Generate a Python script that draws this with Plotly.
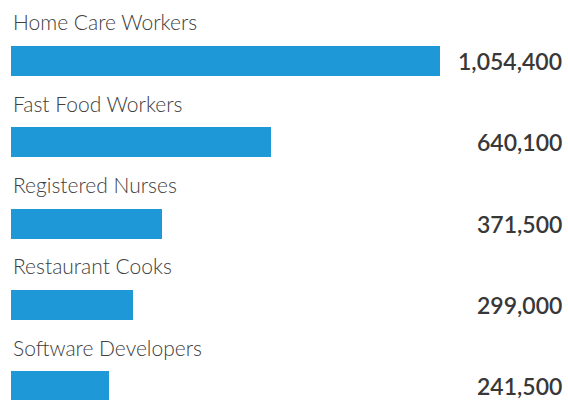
import plotly.graph_objects as go

categories = ["Home Care Workers", "Fast Food Workers", "Registered Nurses",
              "Restaurant Cooks", "Software Developers"]
values = [1054400, 640100, 371500, 299000, 241500]
value_labels = ["1,054,400", "640,100", "371,500", "299,000", "241,500"]

positions = list(range(len(categories)))
BAR_COLOR = "#1E98D6"

fig = go.Figure()
fig.add_trace(go.Bar(
    x=values, y=positions, orientation="h",
    marker=dict(color=BAR_COLOR, line=dict(width=0)),
    width=0.37, hoverinfo="skip", showlegend=False,
))

annotations = []
for p, cat, lab in zip(positions, categories, value_labels):
    annotations.append(dict(
        x=0, y=p - 0.48, xref="x", yref="y", text=cat, showarrow=False,
        xanchor="left", yanchor="middle",
        font=dict(family="Lato", size=21, color="#404040", weight=300),
    ))
    annotations.append(dict(
        x=1, y=p, xref="paper", yref="y", text=lab, showarrow=False,
        xanchor="right", yanchor="middle", xshift=-4,
        font=dict(family="Lato", size=23, color="#383838", weight=600),
    ))

fig.update_layout(
    width=568, height=400,
    margin=dict(l=11, r=0, t=0, b=0),
    paper_bgcolor="white", plot_bgcolor="white",
    xaxis=dict(range=[0, 1054400 * 557 / 429], visible=False, fixedrange=True),
    yaxis=dict(range=[4.17, -0.75], visible=False, fixedrange=True),
    annotations=annotations,
    bargap=0,
)

fig.write_html("out.html", config={"displayModeBar": False},
               post_script="document.body.style.margin='0';document.body.style.overflow='hidden';")
